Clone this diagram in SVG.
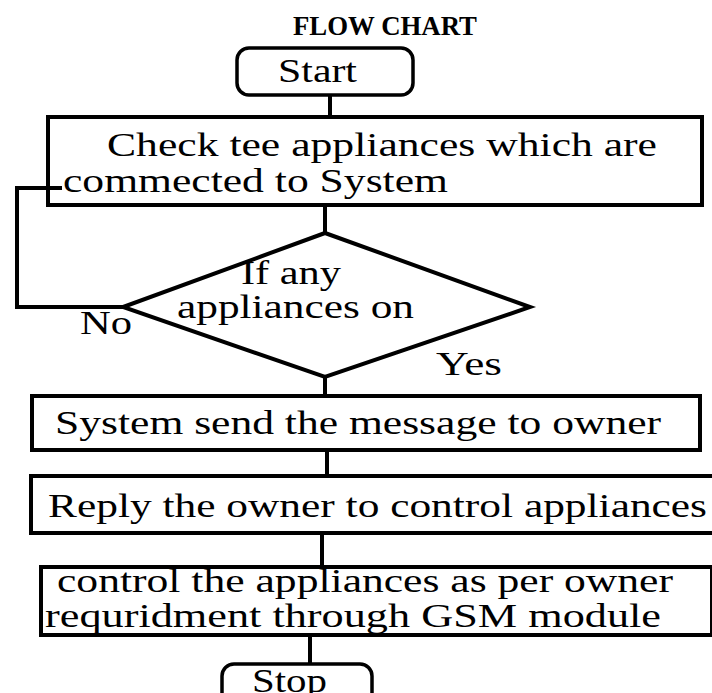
<svg xmlns="http://www.w3.org/2000/svg" width="712" height="693" viewBox="0 0 712 693">
<style>
.shape{fill:#fff;stroke:#000;stroke-width:4}
.term{fill:#fff;stroke:#000;stroke-width:3.5}
.t{font-family:"Liberation Serif","Times New Roman",serif;font-size:34px;fill:#000}
.title{font-family:"Liberation Serif","Times New Roman",serif;font-size:28px;font-weight:bold;fill:#000}
.c{fill:none;stroke:#000;stroke-width:4}
</style>
<rect width="712" height="693" fill="#fff"/>
<text class="title" x="293" y="35" textLength="184" lengthAdjust="spacingAndGlyphs">FLOW CHART</text>
<g id="connectors">
<line class="c" x1="330" y1="95" x2="330" y2="117"/>
<line class="c" x1="325" y1="205" x2="325" y2="233"/>
<polyline class="c" points="17,188 17,307 123,307"/>
<line class="c" x1="325" y1="377" x2="325" y2="396"/>
<line class="c" x1="327" y1="450" x2="327" y2="476"/>
<line class="c" x1="322" y1="533" x2="322" y2="567" stroke-width="5"/>
<line class="c" x1="310" y1="635" x2="310" y2="664" stroke-width="5"/>
<text class="t" x="80" y="334" textLength="52" lengthAdjust="spacingAndGlyphs">No</text>
<text class="t" x="436" y="375" textLength="66" lengthAdjust="spacingAndGlyphs">Yes</text>
</g>
<g id="start">
<rect class="term" x="237" y="48" width="176" height="47" rx="12"/>
<text class="t" x="278" y="82" textLength="79" lengthAdjust="spacingAndGlyphs">Start</text>
</g>
<g id="check">
<rect class="shape" x="48" y="117" width="654" height="88"/>
<text class="t" x="107" y="156" textLength="550" lengthAdjust="spacingAndGlyphs">Check tee appliances which are</text>
<text class="t" x="63" y="192" textLength="385" lengthAdjust="spacingAndGlyphs">commected to System</text>
</g>
<line class="c" x1="15" y1="188" x2="62" y2="188"/>
<g id="decision">
<polygon class="shape" points="325,233 530,307 325,377 123,307"/>
<text class="t" x="241" y="284" textLength="100" lengthAdjust="spacingAndGlyphs">If any</text>
<text class="t" x="177" y="318" textLength="237" lengthAdjust="spacingAndGlyphs">appliances on</text>
</g>
<g id="send">
<rect class="shape" x="32" y="396" width="668" height="54"/>
<text class="t" x="55" y="434" textLength="606" lengthAdjust="spacingAndGlyphs">System send the message to owner</text>
</g>
<g id="reply">
<rect class="shape" x="31" y="476" width="690" height="57"/>
<text class="t" x="48" y="517" textLength="659" lengthAdjust="spacingAndGlyphs">Reply the owner to control appliances</text>
</g>
<g id="control">
<rect class="shape" x="41" y="567" width="671" height="68"/>
<text class="t" x="57" y="592" textLength="616" lengthAdjust="spacingAndGlyphs">control the appliances as per owner</text>
<text class="t" x="45" y="627" textLength="616" lengthAdjust="spacingAndGlyphs">requridment through GSM module</text>
</g>
<g id="stop">
<rect class="term" x="222" y="664" width="150" height="50" rx="12"/>
<text class="t" x="252" y="692" textLength="75" lengthAdjust="spacingAndGlyphs">Stop</text>
</g>
</svg>
